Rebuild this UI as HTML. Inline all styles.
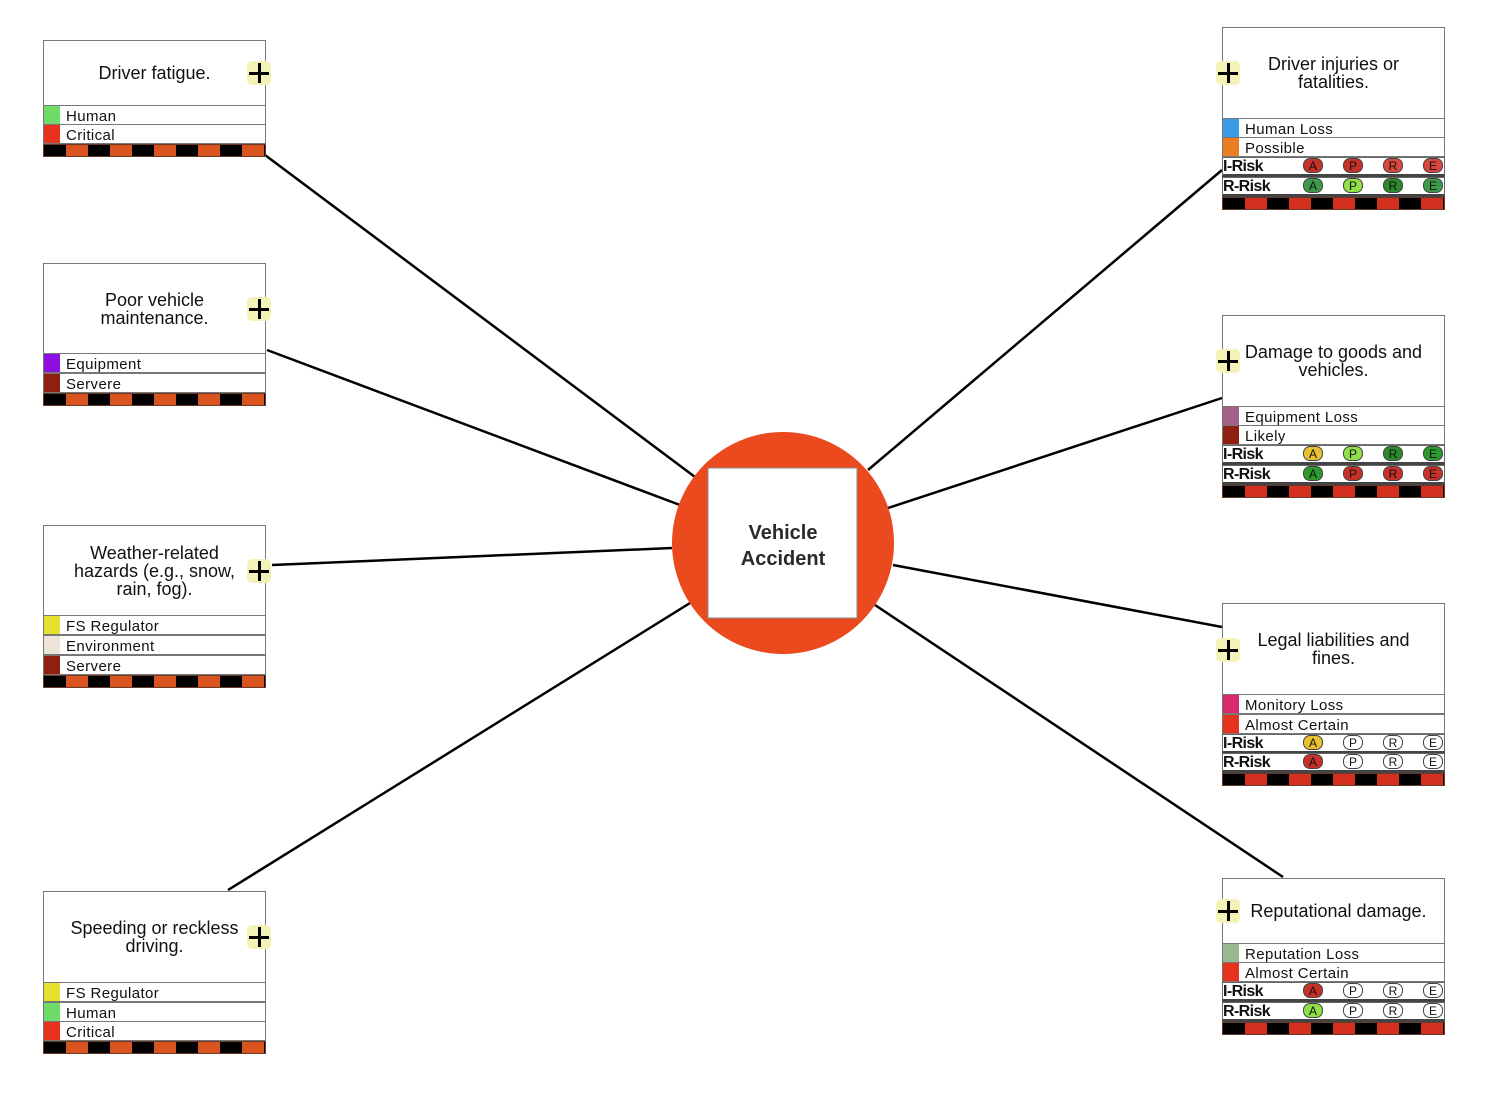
<!DOCTYPE html>
<html><head><meta charset="utf-8"><style>
body{margin:0;width:1490px;height:1094px;background:#fff;position:relative;overflow:hidden;font-family:"Liberation Sans",sans-serif}
.a{position:absolute;box-sizing:border-box}
.t{border:1px solid #777;background:#fff;display:flex;align-items:center;justify-content:center;text-align:center;font-size:18px;line-height:18px;color:#111;width:223px}
.r{border:1px solid #777;background:#fff;height:20px;width:223px;font-size:15px;letter-spacing:.4px;line-height:19px;color:#111}
.r i{position:absolute;left:0;top:0;width:16px;height:18px}
.r span{position:absolute;left:22px;top:1px}
.k{border:1px solid #666;background:#fff;height:20px;width:223px;font-size:16px;font-weight:bold;line-height:17px;color:#111;border-bottom:3px solid #444}
.k b{position:absolute;left:0;top:0;letter-spacing:-.6px}
.p{position:absolute;top:0;width:20px;height:15px;border:1px solid #444;border-radius:7px;font-size:12px;font-weight:normal;line-height:14px;text-align:center;box-sizing:border-box;background:#fff}
.s{height:13px;width:223px;border:1px solid #6a3a2a;background:repeating-linear-gradient(90deg,#000 0 22px,#d9541e 22px 44px)}
.sr{height:13px;width:223px;border:1px solid #6a3a2a;background:repeating-linear-gradient(90deg,#000 0 22px,#d43020 22px 44px)}
.plus{position:absolute;width:24px;height:24px;background:#f3f3b8;border-radius:5px}
.plus:before{content:"";position:absolute;left:2px;top:10.5px;width:20px;height:3px;background:#000}
.plus:after{content:"";position:absolute;left:10.5px;top:2px;width:3px;height:20px;background:#000}
</style></head><body>
<svg class="a" style="left:0;top:0" width="1490" height="1094">
<g stroke="#000" stroke-width="2.5">
<line x1="265" y1="155" x2="695" y2="477"/>
<line x1="267" y1="350" x2="680" y2="505"/>
<line x1="272" y1="565" x2="672" y2="548"/>
<line x1="228" y1="890" x2="690" y2="603"/>
<line x1="868" y1="470" x2="1222" y2="170"/>
<line x1="888" y1="508" x2="1222" y2="398"/>
<line x1="893" y1="565" x2="1222" y2="627"/>
<line x1="875" y1="605" x2="1283" y2="877"/>
</g>
<circle cx="783" cy="543" r="111" fill="#eb491e"/>
<rect x="708" y="468" width="149" height="150" fill="#fff" stroke="#8a8a8a"/>
<text x="783" y="539" text-anchor="middle" font-family="Liberation Sans" font-weight="bold" font-size="20" fill="#2a2a2a">Vehicle</text>
<text x="783" y="565" text-anchor="middle" font-family="Liberation Sans" font-weight="bold" font-size="20" fill="#2a2a2a">Accident</text>
</svg>

<div class="a t" style="left:43px;top:40px;height:66px">Driver fatigue.</div>
<div class="a r" style="left:43px;top:105px"><i style="background:#6fdc6a"></i><span>Human</span></div>
<div class="a r" style="left:43px;top:124px"><i style="background:#e8321e"></i><span>Critical</span></div>
<div class="a s" style="left:43px;top:144px"></div>
<div class="plus" style="left:247px;top:61px"></div>

<div class="a t" style="left:43px;top:263px;height:91px">Poor vehicle<br>maintenance.</div>
<div class="a r" style="left:43px;top:353px"><i style="background:#8c0ee0"></i><span>Equipment</span></div>
<div class="a r" style="left:43px;top:373px"><i style="background:#8f1f10"></i><span>Servere</span></div>
<div class="a s" style="left:43px;top:393px"></div>
<div class="plus" style="left:247px;top:297px"></div>

<div class="a t" style="left:43px;top:525px;height:91px">Weather-related<br>hazards (e.g., snow,<br>rain, fog).</div>
<div class="a r" style="left:43px;top:615px"><i style="background:#e6e030"></i><span>FS Regulator</span></div>
<div class="a r" style="left:43px;top:635px"><i style="background:#ece4d8"></i><span>Environment</span></div>
<div class="a r" style="left:43px;top:655px"><i style="background:#8f1f10"></i><span>Servere</span></div>
<div class="a s" style="left:43px;top:675px"></div>
<div class="plus" style="left:247px;top:559px"></div>

<div class="a t" style="left:43px;top:891px;height:92px">Speeding or reckless<br>driving.</div>
<div class="a r" style="left:43px;top:982px"><i style="background:#e6e030"></i><span>FS Regulator</span></div>
<div class="a r" style="left:43px;top:1002px"><i style="background:#6fdc6a"></i><span>Human</span></div>
<div class="a r" style="left:43px;top:1021px"><i style="background:#e8321e"></i><span>Critical</span></div>
<div class="a s" style="left:43px;top:1041px"></div>
<div class="plus" style="left:247px;top:925px"></div>

<div class="a t" style="left:1222px;top:27px;height:92px">Driver injuries or<br>fatalities.</div>
<div class="a r" style="left:1222px;top:118px"><i style="background:#3a9be6"></i><span>Human Loss</span></div>
<div class="a r" style="left:1222px;top:137px"><i style="background:#ec7e22"></i><span>Possible</span></div>
<div class="a k" style="left:1222px;top:157px"><b>I-Risk</b>
<div class="p" style="left:80px;background:#c8302a">A</div><div class="p" style="left:120px;background:#c8302a">P</div><div class="p" style="left:160px;background:#d9473f">R</div><div class="p" style="left:200px;background:#d9473f">E</div></div>
<div class="a k" style="left:1222px;top:177px"><b>R-Risk</b>
<div class="p" style="left:80px;background:#3e9a4a">A</div><div class="p" style="left:120px;background:#8fe048">P</div><div class="p" style="left:160px;background:#2c8a2c">R</div><div class="p" style="left:200px;background:#3e9a4a">E</div></div>
<div class="a sr" style="left:1222px;top:197px"></div>
<div class="plus" style="left:1216px;top:61px"></div>

<div class="a t" style="left:1222px;top:315px;height:92px;align-items:flex-start;padding-top:27px">Damage to goods and<br>vehicles.</div>
<div class="a r" style="left:1222px;top:406px"><i style="background:#a06088"></i><span>Equipment Loss</span></div>
<div class="a r" style="left:1222px;top:425px"><i style="background:#8f1f10"></i><span>Likely</span></div>
<div class="a k" style="left:1222px;top:445px"><b>I-Risk</b>
<div class="p" style="left:80px;background:#e8c030">A</div><div class="p" style="left:120px;background:#8fe048">P</div><div class="p" style="left:160px;background:#2c8a2c">R</div><div class="p" style="left:200px;background:#2c9a2c">E</div></div>
<div class="a k" style="left:1222px;top:465px"><b>R-Risk</b>
<div class="p" style="left:80px;background:#2c9a2c">A</div><div class="p" style="left:120px;background:#c8302a">P</div><div class="p" style="left:160px;background:#c8302a">R</div><div class="p" style="left:200px;background:#c8302a">E</div></div>
<div class="a sr" style="left:1222px;top:485px"></div>
<div class="plus" style="left:1216px;top:349px"></div>

<div class="a t" style="left:1222px;top:603px;height:92px">Legal liabilities and<br>fines.</div>
<div class="a r" style="left:1222px;top:694px"><i style="background:#d82a6a"></i><span>Monitory Loss</span></div>
<div class="a r" style="left:1222px;top:714px"><i style="background:#e8321e"></i><span>Almost Certain</span></div>
<div class="a k" style="left:1222px;top:734px"><b>I-Risk</b>
<div class="p" style="left:80px;background:#e8c030">A</div><div class="p" style="left:120px">P</div><div class="p" style="left:160px">R</div><div class="p" style="left:200px">E</div></div>
<div class="a k" style="left:1222px;top:753px"><b>R-Risk</b>
<div class="p" style="left:80px;background:#c8302a">A</div><div class="p" style="left:120px">P</div><div class="p" style="left:160px">R</div><div class="p" style="left:200px">E</div></div>
<div class="a sr" style="left:1222px;top:773px"></div>
<div class="plus" style="left:1216px;top:638px"></div>

<div class="a t" style="left:1222px;top:878px;height:66px">&nbsp;&nbsp;Reputational damage.</div>
<div class="a r" style="left:1222px;top:943px"><i style="background:#98b890"></i><span>Reputation Loss</span></div>
<div class="a r" style="left:1222px;top:962px"><i style="background:#e8321e"></i><span>Almost Certain</span></div>
<div class="a k" style="left:1222px;top:982px"><b>I-Risk</b>
<div class="p" style="left:80px;background:#c8302a">A</div><div class="p" style="left:120px">P</div><div class="p" style="left:160px">R</div><div class="p" style="left:200px">E</div></div>
<div class="a k" style="left:1222px;top:1002px"><b>R-Risk</b>
<div class="p" style="left:80px;background:#8fe048">A</div><div class="p" style="left:120px">P</div><div class="p" style="left:160px">R</div><div class="p" style="left:200px">E</div></div>
<div class="a sr" style="left:1222px;top:1022px"></div>
<div class="plus" style="left:1216px;top:899px"></div>
</body></html>
